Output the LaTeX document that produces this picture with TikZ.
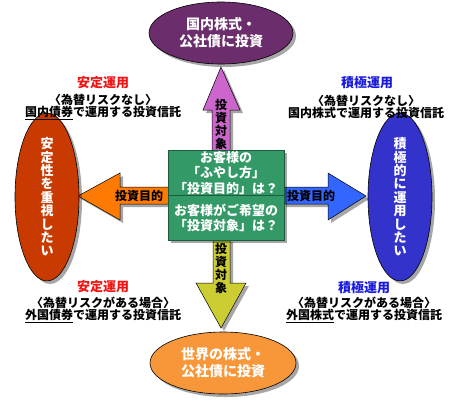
\documentclass[tikz,border=0pt]{standalone}
\usepackage{fontspec}
\setmainfont{Noto Sans CJK JP}
\usetikzlibrary{shapes.geometric,shadows}
\definecolor{cTop}{HTML}{6B2D6B}
\definecolor{cUp}{HTML}{CC66CC}
\definecolor{cBox}{HTML}{339966}
\definecolor{cBoxD}{HTML}{1E5A3C}
\definecolor{cLeft}{HTML}{C83A00}
\definecolor{cLArr}{HTML}{FF7A00}
\definecolor{cRArr}{HTML}{3366FF}
\definecolor{cRight}{HTML}{3333CC}
\definecolor{cDown}{HTML}{CCCC33}
\definecolor{cBot}{HTML}{F7973A}
\definecolor{cRed}{HTML}{F01414}
\definecolor{cBlue}{HTML}{1A1ADC}
\tikzset{
  shad/.style={drop shadow={shadow xshift=3pt,shadow yshift=-3pt,fill=black,opacity=.35}},
  oval/.style={ellipse,draw=black,line width=0.6pt,inner sep=0pt,shad,text=white,
    font=\fontsize{14}{17}\selectfont\bfseries,align=center},
  blockarr/.style={draw=black,line width=0.5pt,shad},
  arrlabel/.style={font=\fontsize{12}{13}\selectfont\bfseries,text=black,align=center,inner sep=0pt},
  boxtext/.style={font=\fontsize{13}{15.5}\selectfont\bfseries,text=white,align=center,inner sep=0pt},
  head/.style={font=\fontsize{13}{15}\selectfont\bfseries,inner sep=0pt},
  body/.style={font=\fontsize{12}{11}\selectfont\bfseries,text=black,align=center,inner sep=0pt},
}
\begin{document}
\begin{tikzpicture}[x=1pt,y=-1pt]
\useasboundingbox (0,0) rectangle (454,400);
% arrows
\draw[blockarr,fill=cUp] (212,151) -- (212,110) -- (203,110) -- (221,67) -- (240,110) -- (230,110) -- (230,151) -- cycle;
\draw[blockarr,fill=cDown] (213,239) -- (213,283) -- (196,283) -- (221,328) -- (246,283) -- (230,283) -- (230,239) -- cycle;
\draw[blockarr,fill=cLArr] (169,187) -- (120,187) -- (120,173) -- (78,196) -- (120,220) -- (120,204) -- (169,204) -- cycle;
\draw[blockarr,fill=cRArr] (283,187) -- (328,187) -- (328,173) -- (366,196) -- (328,220) -- (328,204) -- (283,204) -- cycle;
% green box
\node[draw=cBoxD,line width=0.8pt,fill=cBox,minimum width=116pt,minimum height=90pt,inner sep=0pt,shad] (box) at (226,195) {};
\draw[cBoxD,line width=0.8pt] (box.west) -- (box.east);
\node[boxtext] (q1) at (226,173) {お客様の\\「ふやし方」\\「投資目的」は？};
\node[boxtext] (q2) at (226,218) {お客様がご希望の\\「投資対象」は？};
% arrow labels
\node[arrlabel] (lu) at (221,124) {投\\資\\対\\象};
\node[arrlabel] (ld) at (221,268) {投\\資\\対\\象};
\node[arrlabel] (ll) at (139,196) {投資目的};
\node[arrlabel] (lr) at (311,196) {投資目的};
% ellipses
\node[oval,fill=cTop,minimum width=144pt,minimum height=62pt] (top) at (221,33) {国内株式・\\公社債に投資};
\node[oval,fill=cBot,minimum width=146pt,minimum height=62pt] (bot) at (223,363) {世界の株式・\\公社債に投資};
\node[oval,fill=cLeft,minimum width=64pt,minimum height=140pt,font=\fontsize{13}{13.4}\selectfont\bfseries] (left) at (47,197) {安\\定\\性\\を\\重\\視\\し\\た\\い};
\node[oval,fill=cRight,minimum width=64pt,minimum height=140pt,font=\fontsize{13}{13.4}\selectfont\bfseries] (right) at (400,197) {積\\極\\的\\に\\運\\用\\し\\た\\い};
% captions
\node[head,text=cRed] (h1) at (103,83) {安定運用};
\node[body] (t1) at (103,107) {〈為替リスクなし〉\\\underline{国内債券}で運用する投資信託};
\node[head,text=cBlue] (h2) at (367,83) {積極運用};
\node[body] (t2) at (366,107) {〈為替リスクなし〉\\国内株式で運用する投資信託};
\node[head,text=cRed] (h3) at (103,287) {安定運用};
\node[body] (t3) at (103,310) {〈為替リスクがある場合〉\\\underline{外国債券}で運用する投資信託};
\node[head,text=cBlue] (h4) at (364,288) {積極運用};
\node[body] (t4) at (364,310) {〈為替リスクがある場合〉\\\underline{外国株式}で運用する投資信託};
\end{tikzpicture}
\end{document}
